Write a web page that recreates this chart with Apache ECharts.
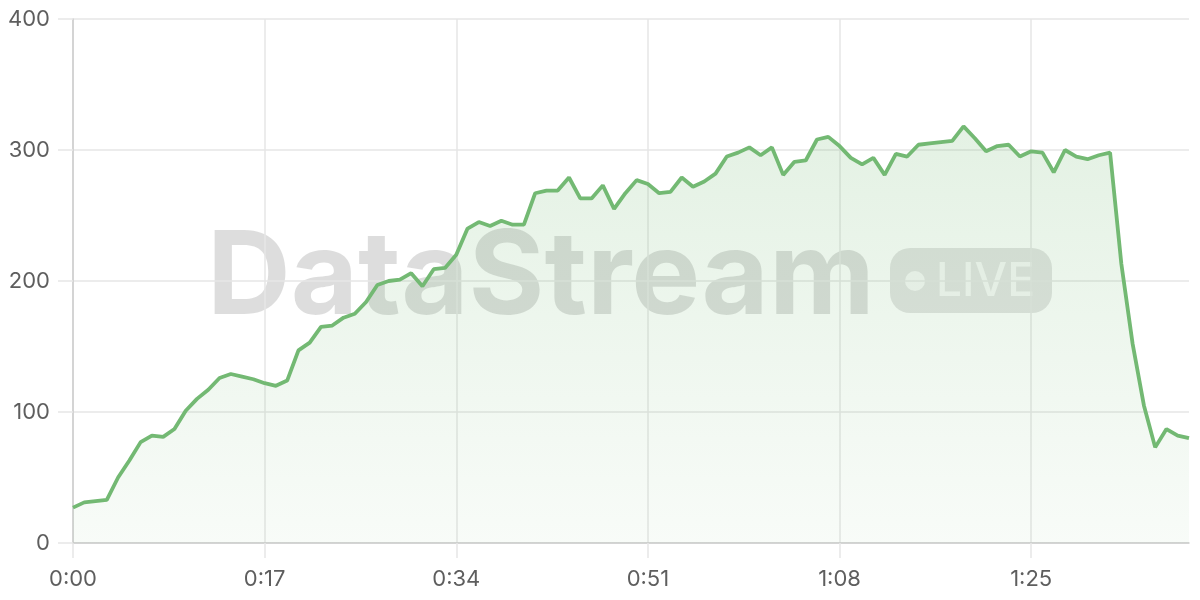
<!DOCTYPE html>
<html>
<head>
<meta charset="utf-8">
<script src="https://cdn.jsdelivr.net/npm/echarts@6/dist/echarts.min.js"></script>
<style>
  html, body { margin: 0; padding: 0; background: #ffffff; }
  #chart { width: 1200px; height: 600px; }
</style>
</head>
<body>
<div id="chart"></div>
<script>
// Values sampled once per second, 0:00 .. 1:39
const values = [
  27, 31, 32, 33, 50, 63, 77, 82, 81, 87,
  101, 110, 117, 126, 129, 127, 125, 122, 120, 124,
  147, 153, 165, 166, 172, 175, 184, 197, 200, 201,
  206, 196, 209, 210, 220, 240, 245, 242, 246, 243,
  243, 267, 269, 269, 279, 263, 263, 273, 255, 267,
  277, 274, 267, 268, 279, 272, 276, 282, 295, 298,
  302, 296, 302, 281, 291, 292, 308, 310, 303, 294,
  289, 294, 281, 297, 295, 304, 305, 306, 307, 318,
  309, 299, 303, 304, 295, 299, 298, 283, 300, 295,
  293, 296, 298, 213, 152, 105, 73, 87, 82, 80
];
const yTicks = [0, 100, 200, 300, 400];
const labelEvery = 17; // seconds between x labels
const watermarkText = 'DataStream';
const badgeText = 'LIVE';

function fmt(sec) {
  const m = Math.floor(sec / 60);
  const s = sec % 60;
  return m + ':' + (s < 10 ? '0' + s : s);
}
const categories = values.map((_, i) => fmt(i));

const chart = echarts.init(document.getElementById('chart'));
const FONT = 'Inter, "Noto Sans", sans-serif';
const showIdx = (i) => i % labelEvery === 0;

chart.setOption({
  animation: false,
  backgroundColor: '#ffffff',
  grid: { left: 73, right: 11, top: 19, bottom: 57, containLabel: false },
  xAxis: {
    type: 'category',
    data: categories,
    boundaryGap: false,
    axisLine: { show: true, lineStyle: { color: '#cccccc', width: 1.5 } },
    axisTick: { show: true, interval: (i) => showIdx(i), length: 15, lineStyle: { color: '#e6e6e6', width: 1.5 } },
    axisLabel: { interval: (i) => showIdx(i), color: '#5e5e5e', fontSize: 22, fontFamily: FONT, margin: 25 },
    splitLine: { show: true, interval: (i) => showIdx(i), lineStyle: { color: '#e6e6e6', width: 1.5 } }
  },
  yAxis: {
    type: 'value',
    min: yTicks[0],
    max: yTicks[yTicks.length - 1],
    interval: 100,
    axisLine: { show: true, lineStyle: { color: '#cccccc', width: 1.5 } },
    axisTick: { show: true, length: 15, lineStyle: { color: '#e6e6e6', width: 1.5 } },
    axisLabel: { color: '#5e5e5e', fontSize: 22, fontFamily: FONT, margin: 23 },
    splitLine: { show: true, lineStyle: { color: '#e6e6e6', width: 1.5 } }
  },
  graphic: [
    {
      type: 'group',
      z: 1,
      silent: true,
      children: [
        {
          type: 'text',
          left: 207, top: 221,
          style: { text: watermarkText, font: '700 116px ' + FONT, fill: 'rgba(0,0,0,0.135)' }
        },
        {
          type: 'rect',
          shape: { x: 890, y: 248, width: 162, height: 65, r: 20 },
          style: { fill: 'rgba(0,0,0,0.11)' }
        },
        {
          type: 'circle',
          shape: { cx: 915, cy: 281, r: 10 },
          style: { fill: 'rgba(255,255,255,0.7)' }
        },
        {
          type: 'text',
          left: 936, top: 259,
          style: { text: badgeText, font: '500 46px ' + FONT, fill: 'rgba(255,255,255,0.7)' }
        }
      ]
    }
  ],
  series: [
    {
      type: 'line',
      data: values,
      z: 3,
      symbol: 'none',
      smooth: false,
      lineStyle: { color: '#73b973', width: 3.8 },
      areaStyle: {
        color: new echarts.graphic.LinearGradient(0, 0, 0, 1, [
          { offset: 0, color: 'rgba(115,185,115,0.28)' },
          { offset: 1, color: 'rgba(115,185,115,0.07)' }
        ])
      }
    }
  ]
});
</script>
</body>
</html>
